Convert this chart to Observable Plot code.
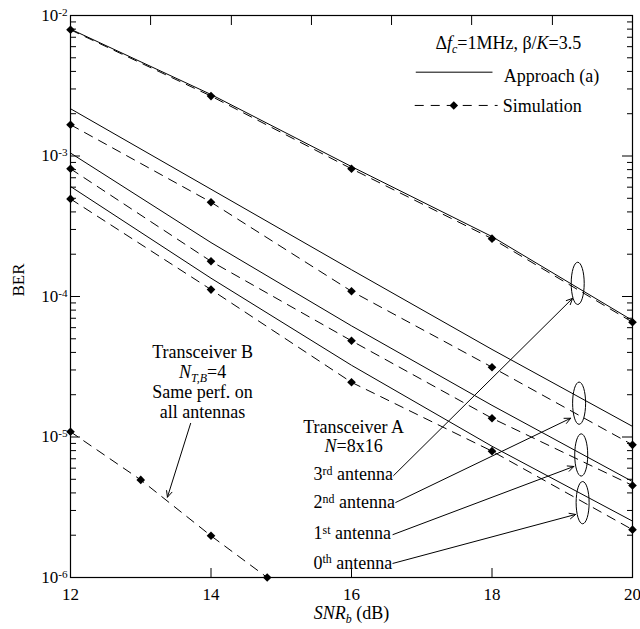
<!DOCTYPE html>
<html><head><meta charset="utf-8">
<script src="https://cdn.jsdelivr.net/npm/d3@7"></script>
<script src="https://cdn.jsdelivr.net/npm/@observablehq/plot@0.6"></script>
<style>body{margin:0;background:#fff}#chart svg{display:block}</style>
</head><body><div id="chart"></div>
<script>
// ---- data ----
const snr = [12, 14, 16, 18, 20];
const approach3rd = [8.0e-3, 2.74e-3, 8.41e-4, 2.67e-4, 6.75e-5];
const sim3rd      = [7.91e-3, 2.67e-3, 8.11e-4, 2.58e-4, 6.56e-5];
const approach2nd = [2.17e-3, 5.80e-4, 1.55e-4, 4.20e-5, 1.19e-5];
const sim2nd      = [1.67e-3, 4.69e-4, 1.09e-4, 3.14e-5, 8.79e-6];
const approach1st = [1.05e-3, 2.42e-4, 6.18e-5, 1.68e-5, 4.82e-6];
const sim1st      = [8.11e-4, 1.78e-4, 4.84e-5, 1.36e-5, 4.52e-6];
const approach0th = [6.07e-4, 1.35e-4, 3.24e-5, 8.59e-6, 2.52e-6];
const sim0th      = [4.95e-4, 1.12e-4, 2.45e-5, 7.93e-6, 2.19e-6];
const snrB = [12, 13, 14, 14.8];
const simB = [1.09e-5, 4.95e-6, 1.98e-6, 1.0e-6];

const xTickLabels = [12, 14, 16, 18, 20];
const xInnerTicks = [14, 16, 18];
const xTopTicks = [13.14, 14.29, 15.43, 16.57, 17.71, 18.86];
const yMajor = [1e-2, 1e-3, 1e-4, 1e-5, 1e-6];
const yInnerMajor = [1e-3, 1e-4, 1e-5];
const yMinorMult = [2, 3, 4, 5, 6, 7, 8, 9];

// annotation content (positions in data units)
const ellipses = [
  {x: 19.22, y: 1.24e-4}, {x: 19.24, y: 1.74e-5}, {x: 19.27, y: 7.45e-6}, {x: 19.29, y: 3.41e-6}
];
const arrows = [
  {x1: 13.71, y1: 1.25e-5, x2: 13.38, y2: 3.73e-6},
  {x1: 16.60, y1: 5.32e-6, x2: 19.147, y2: 9.7e-5},
  {x1: 16.63, y1: 3.42e-6, x2: 19.12, y2: 1.36e-5},
  {x1: 16.59, y1: 2.02e-6, x2: 19.165, y2: 6.17e-6},
  {x1: 16.59, y1: 1.26e-6, x2: 19.19, y2: 2.81e-6}
];
const annotations = [
  {text: "Δ*f*_{*c*}=1MHz, β/*K*=3.5", x: 18.232, y: 6.37e-3, anchor: "middle"},
  {text: "Approach (a)", x: 18.168, y: 3.68e-3, anchor: "start"},
  {text: "Simulation", x: 18.154, y: 2.25e-3, anchor: "start"},
  {text: "Transceiver B\n*N*_{*T,B*}=4\nSame perf. on\nall antennas", x: 13.88, y: 2.48e-5, anchor: "middle", lh: 1.11},
  {text: "Transceiver A\n*N*=8x16", x: 16.03, y: 1.008e-5, anchor: "middle", lh: 1.08},
  {text: "3^{rd} antenna", x: 15.46, y: 5.41e-6, anchor: "start"},
  {text: "2^{nd} antenna", x: 15.46, y: 3.42e-6, anchor: "start"},
  {text: "1^{st} antenna", x: 15.46, y: 2.06e-6, anchor: "start"},
  {text: "0^{th} antenna", x: 15.46, y: 1.27e-6, anchor: "start"}
];
const legendLines = [
  {kind: "approach", x1: 16.915, x2: 18.007, y: 3.95e-3},
  {kind: "sim", x1: 16.90, x2: 18.08, y: 2.29e-3}
];
const legendMarker = [{x: 17.456, y: 2.29e-3}];

// ---- build table ----
const seriesDefs = [
  {name: "3rd", kind: "approach", x: snr, y: approach3rd},
  {name: "3rd", kind: "sim", x: snr, y: sim3rd},
  {name: "2nd", kind: "approach", x: snr, y: approach2nd},
  {name: "2nd", kind: "sim", x: snr, y: sim2nd},
  {name: "1st", kind: "approach", x: snr, y: approach1st},
  {name: "1st", kind: "sim", x: snr, y: sim1st},
  {name: "0th", kind: "approach", x: snr, y: approach0th},
  {name: "0th", kind: "sim", x: snr, y: sim0th},
  {name: "B", kind: "sim", x: snrB, y: simB}
];
const rows = seriesDefs.flatMap(s => s.x.map((x, i) => ({snr: x, ber: s.y[i], series: s.name, kind: s.kind})));
const approachRows = rows.filter(r => r.kind === "approach");
const simRows = rows.filter(r => r.kind === "sim");
const yMinor = yMajor.slice(1).flatMap(p => yMinorMult.map(m => m * p));

const diamond = {draw(ctx, size) {
  const r = Math.sqrt(size / Math.PI);
  ctx.moveTo(0, -r); ctx.lineTo(r, 0); ctx.lineTo(0, r); ctx.lineTo(-r, 0); ctx.closePath();
}};
const ellipseSym = {draw(ctx, size) {
  const r = Math.sqrt(size / Math.PI), a = r, b = r * 3.25, k = 0.5523;
  ctx.moveTo(a, 0);
  ctx.bezierCurveTo(a, b * k, a * k, b, 0, b);
  ctx.bezierCurveTo(-a * k, b, -a, b * k, -a, 0);
  ctx.bezierCurveTo(-a, -b * k, -a * k, -b, 0, -b);
  ctx.bezierCurveTo(a * k, -b, a, -b * k, a, 0);
  ctx.closePath();
}};

const W = 640, H = 629, mL = 70, mR = 8, mT = 15, mB = 52;
const pw = W - mL - mR, ph = H - mT - mB;
const DASH = "9,7";

const svg = Plot.plot({
  width: W, height: H,
  marginLeft: mL, marginRight: mR, marginTop: mT, marginBottom: mB,
  style: {fontFamily: "'Liberation Serif','Times New Roman',serif", fontSize: "17px", color: "black", background: "white"},
  x: {domain: [12, 20], axis: null},
  y: {type: "log", domain: [1e-6, 1e-2], axis: null},
  marks: [
    Plot.line(approachRows, {x: "snr", y: "ber", z: "series", stroke: "black", strokeWidth: 1}),
    Plot.line(simRows, {x: "snr", y: "ber", z: "series", stroke: "black", strokeWidth: 1, strokeDasharray: DASH}),
    Plot.dot(simRows, {x: "snr", y: "ber", symbol: diamond, r: 4.3, fill: "black", stroke: "none"}),
    Plot.dot(ellipses, {x: "x", y: "y", symbol: ellipseSym, r: 6.5, fill: "none", stroke: "black", strokeWidth: 1}),
    Plot.arrow(arrows, {x1: "x1", y1: "y1", x2: "x2", y2: "y2", stroke: "black", strokeWidth: 1, headLength: 10, headAngle: 50}),
    Plot.link(legendLines.filter(d => d.kind === "approach"), {x1: "x1", x2: "x2", y1: "y", y2: "y", stroke: "black", strokeWidth: 1}),
    Plot.link(legendLines.filter(d => d.kind === "sim"), {x1: "x1", x2: "x2", y1: "y", y2: "y", stroke: "black", strokeWidth: 1, strokeDasharray: DASH}),
    Plot.dot(legendMarker, {x: "x", y: "y", symbol: diamond, r: 4.3, fill: "black", stroke: "none"}),
    ...annotations.map(a => Plot.text([a], {x: "x", y: "y", text: "text", textAnchor: a.anchor, lineHeight: a.lh ?? 1, fontSize: 18, fill: "black"})),
    Plot.frame({stroke: "black", strokeWidth: 1.2}),
    Plot.tickX(xInnerTicks, {x: d => d, insetTop: ph - 9, stroke: "black"}),
    Plot.tickX(xTopTicks, {x: d => d, insetBottom: ph - 10, stroke: "black"}),
    Plot.tickY(yInnerMajor, {y: d => d, insetRight: pw - 10, stroke: "black"}),
    Plot.tickY(yMinor, {y: d => d, insetRight: pw - 6, stroke: "black"}),
    Plot.tickY(yInnerMajor, {y: d => d, insetLeft: pw - 10, stroke: "black"}),
    Plot.tickY(yMinor, {y: d => d, insetLeft: pw - 5, stroke: "black"}),
    Plot.text(xTickLabels, {x: d => d, text: d => String(d), frameAnchor: "bottom", dy: 22, fontSize: 17, fill: "black"}),
    Plot.text(yMajor, {y: d => d, text: d => `10^{${Math.round(Math.log10(d))}}`, frameAnchor: "left", textAnchor: "end", dx: -3, fontSize: 17, fill: "black"}),
    Plot.text(["*SNR*_{*b*} (dB)"], {text: d => d, frameAnchor: "bottom", dy: 41, fontSize: 18, fill: "black"}),
    Plot.text(["BER"], {text: d => d, frameAnchor: "left", rotate: -90, dx: -52, fontSize: 17, fill: "black"})
  ]
});
document.getElementById("chart").appendChild(svg);

// ---- rich text: *italic*, _{sub}, ^{sup} ----
const NS = "http://www.w3.org/2000/svg";
const hasMarkup = s => /\*|\^\{|_\{/.test(s);
function parseRich(str) {
  const runs = []; let italic = false, mode = "n", buf = "";
  const push = () => { if (buf) runs.push({t: buf, italic, mode}); buf = ""; };
  for (let i = 0; i < str.length; i++) {
    const c = str[i];
    if (c === "*") { push(); italic = !italic; }
    else if ((c === "_" || c === "^") && str[i + 1] === "{") { push(); mode = c === "_" ? "sub" : "sup"; i++; }
    else if (c === "}" && mode !== "n") { push(); mode = "n"; }
    else buf += c;
  }
  push();
  return runs;
}
function fillRich(node, str, fs) {
  while (node.firstChild) node.removeChild(node.firstChild);
  let cur = 0;
  for (const r of parseRich(str)) {
    const t = document.createElementNS(NS, "tspan");
    const target = r.mode === "sub" ? 0.25 * fs : r.mode === "sup" ? -0.3 * fs : 0;
    const d = target - cur;
    if (Math.abs(d) > 1e-6) t.setAttribute("dy", d.toFixed(2));
    cur = target;
    if (r.mode !== "n") t.setAttribute("font-size", (0.66 * fs).toFixed(1));
    if (r.italic) t.setAttribute("font-style", "italic");
    t.textContent = r.t;
    node.appendChild(t);
  }
}
svg.querySelectorAll("text").forEach(el => {
  const fs = parseFloat(getComputedStyle(el).fontSize) || 17;
  const lines = Array.from(el.querySelectorAll("tspan"));
  if (lines.length) lines.forEach(t => { if (hasMarkup(t.textContent)) fillRich(t, t.textContent, fs); });
  else if (hasMarkup(el.textContent)) fillRich(el, el.textContent, fs);
});
</script>
</body></html>
